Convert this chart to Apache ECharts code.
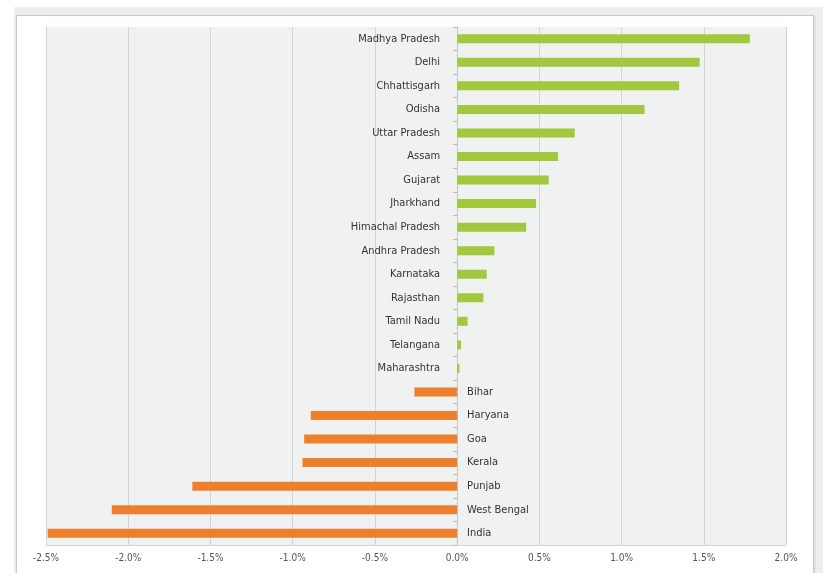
<!DOCTYPE html>
<html>
<head>
<meta charset="utf-8">
<script src="https://cdn.jsdelivr.net/npm/echarts@6/dist/echarts.min.js"></script>
<style>
  html, body { margin: 0; padding: 0; background: #ffffff; }
  #wrap { position: relative; width: 832px; height: 573px; overflow: hidden; }
  #band { position: absolute; left: 14px; top: 7px; width: 809px; height: 580px; background: #eceff1; }
  #panel { position: absolute; left: 16px; top: 15px; width: 796px; height: 580px; background: #ffffff;
           border: 1px solid #c8cacc; box-shadow: 1px 1px 2px rgba(0,0,0,0.12); }
  #chart { position: absolute; left: 0; top: 0; width: 832px; height: 573px; }
</style>
</head>
<body>
<div id="wrap">
  <div id="band"></div>
  <div id="panel"></div>
  <div id="chart"></div>
</div>
<script>
const categories = ['Madhya Pradesh', 'Delhi', 'Chhattisgarh', 'Odisha', 'Uttar Pradesh', 'Assam', 'Gujarat',
  'Jharkhand', 'Himachal Pradesh', 'Andhra Pradesh', 'Karnataka', 'Rajasthan', 'Tamil Nadu', 'Telangana',
  'Maharashtra', 'Bihar', 'Haryana', 'Goa', 'Kerala', 'Punjab', 'West Bengal', 'India'];
const values = [1.78, 1.475, 1.35, 1.14, 0.715, 0.614, 0.557, 0.48, 0.42, 0.227, 0.18, 0.16, 0.064, 0.024,
  0.014, -0.26, -0.89, -0.93, -0.94, -1.61, -2.10, -2.49];
const xMin = -2.5, xMax = 2.0, xStep = 0.5;

const GREEN = '#a2c83f', ORANGE = '#ee7f2d';
const labelFont = "'Liberation Sans Narrow', 'DejaVu Sans Condensed', Arial, sans-serif";

const chart = echarts.init(document.getElementById('chart'));
chart.setOption({
  animation: false,
  grid: { left: 46, right: 46, top: 27, bottom: 28, show: true, backgroundColor: '#f0f1f1', borderWidth: 0 },
  xAxis: {
    type: 'value', min: xMin, max: xMax, interval: xStep,
    axisLine: { show: true, onZero: false, lineStyle: { color: '#d4d6d6' } },
    axisTick: { show: false },
    splitLine: { show: true, lineStyle: { color: '#d2d4d4', width: 1 } },
    axisLabel: { formatter: v => v.toFixed(1) + '%', color: '#555', fontSize: 10,
                 fontFamily: labelFont, margin: 8 }
  },
  yAxis: {
    type: 'category', data: categories, inverse: true,
    axisLine: { show: true, onZero: true, lineStyle: { color: '#c4c6c6' } },
    axisTick: { show: true, length: 4, lineStyle: { color: '#b8baba' } },
    axisLabel: { show: false },
    splitLine: { show: false }
  },
  series: [{
    type: 'bar',
    barWidth: 9,
    data: values.map(v => ({
      value: v,
      itemStyle: { color: v >= 0 ? GREEN : ORANGE },
      label: { position: v >= 0 ? 'left' : 'right', distance: v >= 0 ? 17 : 10 }
    })),
    label: { show: true, formatter: '{b}', color: '#333', fontSize: 11, fontFamily: labelFont }
  }]
});
</script>
</body>
</html>
